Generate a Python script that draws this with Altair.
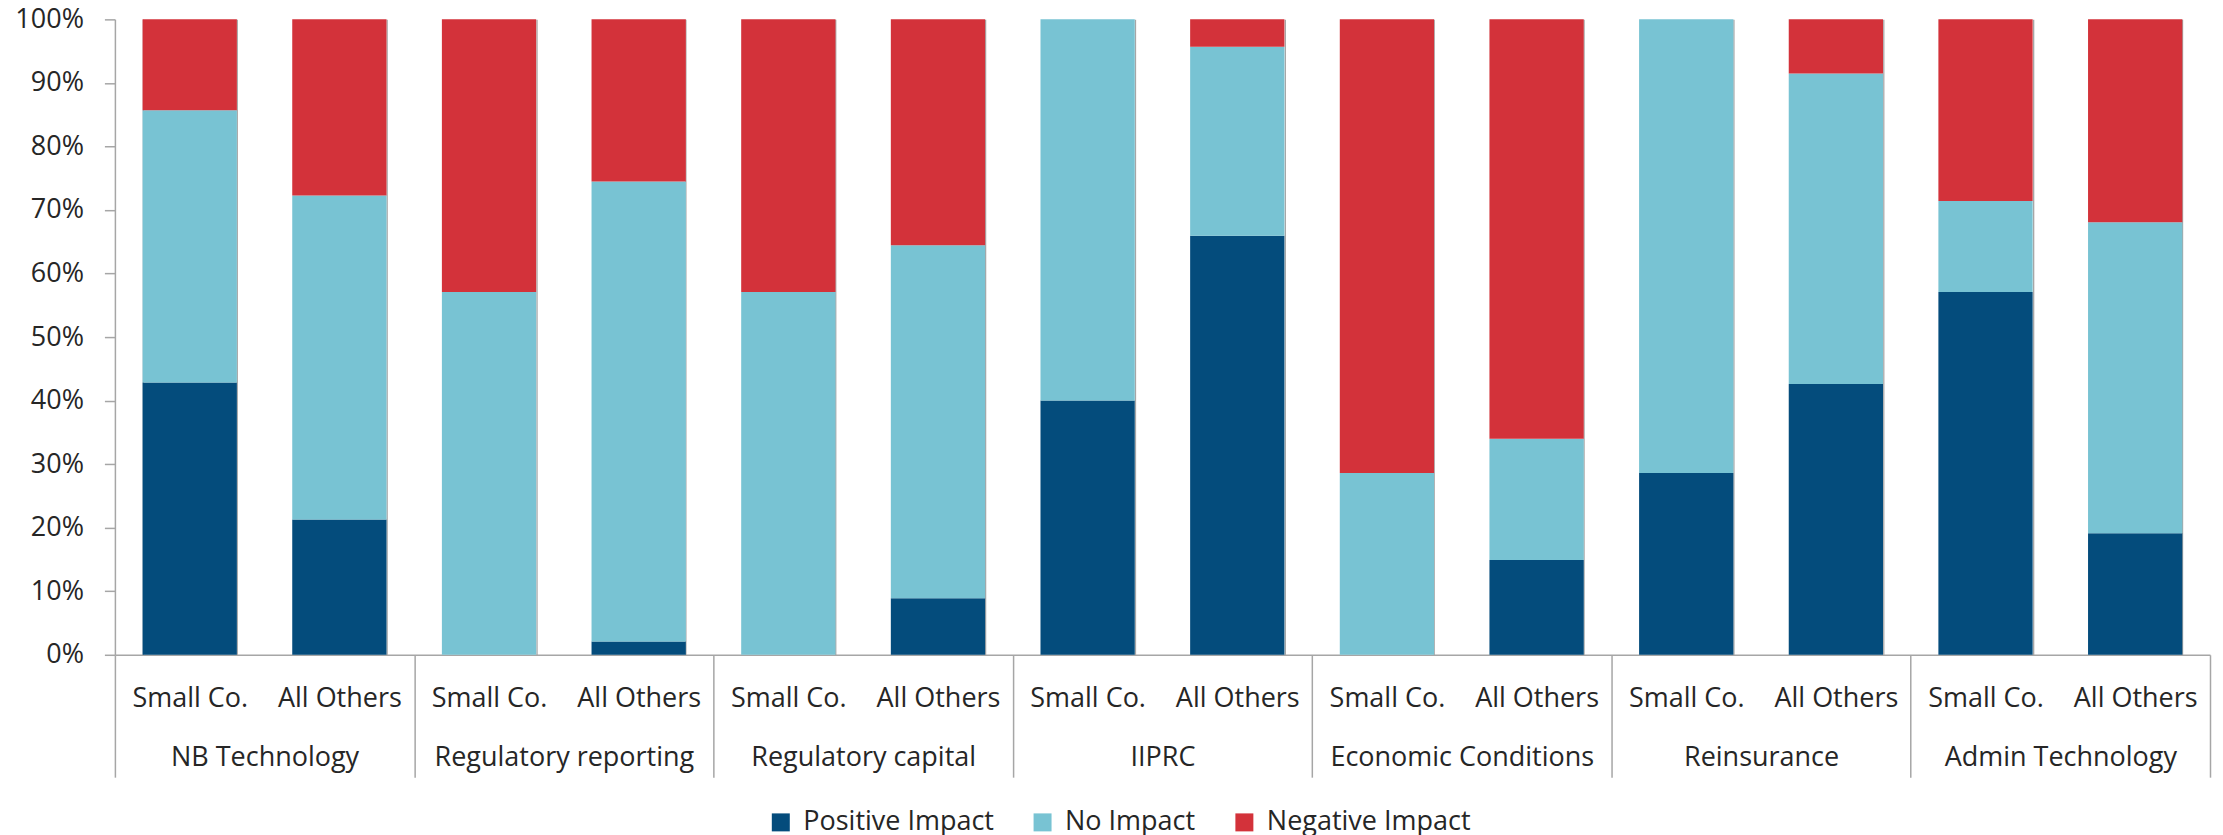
import altair as alt
import pandas as pd

groups = ["NB Technology", "Regulatory reporting", "Regulatory capital", "IIPRC",
          "Economic Conditions", "Reinsurance", "Admin Technology"]
subgroups = ["Small Co.", "All Others"]
series = ["Positive Impact", "No Impact", "Negative Impact"]
colors = ["#044C7C", "#78C3D3", "#D3323A"]

# shares in % for each bar (group order, Small Co. then All Others)
positive = [42.9, 21.3, 0.0, 2.1, 0.0, 8.9, 40.0, 66.0, 0.0, 14.9, 28.6, 42.6, 57.1, 19.1]
no_impact = [42.9, 51.0, 57.1, 72.3, 57.1, 55.6, 60.0, 29.8, 28.6, 19.1, 71.4, 48.9, 14.3, 48.9]
negative = [14.3, 27.7, 42.9, 25.5, 42.9, 35.6, 0.0, 4.3, 71.4, 66.0, 0.0, 8.5, 28.6, 31.9]

y_ticks = [0.0, 0.1, 0.2, 0.3, 0.4, 0.5, 0.6, 0.7, 0.8, 0.9, 1.0]

rows = []
keys = []
for gi, g in enumerate(groups):
    for si, s in enumerate(subgroups):
        k = f"{g}|{s}"
        keys.append(k)
        i = gi * 2 + si
        for j, (name, vals) in enumerate(zip(series, [positive, no_impact, negative])):
            rows.append({"key": k, "group": g, "sub": s, "series": name,
                         "order": j, "value": vals[i]})
df = pd.DataFrame(rows)
gdf = pd.DataFrame({"group": groups})

W, H = 2097, 636
FONT = "Open Sans"
FS = 27
TXT = "#262626"
LINE = "#A6A6A6"

bars = alt.Chart(df).mark_bar().encode(
    x=alt.X("key:N", sort=keys,
            scale=alt.Scale(paddingInner=0.37, paddingOuter=0.185),
            axis=alt.Axis(title=None, orient="bottom",
                          labelExpr="split(datum.label, '|')[1]",
                          labelAngle=0, labelFontSize=FS, labelFont=FONT,
                          labelColor=TXT, labelBaseline="alphabetic",
                          labelPadding=52, labelLimit=0, labelOverlap=False,
                          ticks=False, domain=True, domainColor=LINE,
                          domainWidth=1.5, grid=True, gridColor=LINE,
                          gridWidth=1.3, tickBand="extent")),
    y=alt.Y("value:Q", stack="normalize",
            scale=alt.Scale(domain=[0, 1], nice=False),
            axis=alt.Axis(title=None, values=y_ticks, format=".0%", grid=False,
                          labelFontSize=FS, labelFont=FONT, labelColor=TXT,
                          labelPadding=21, tickSize=10.5, tickColor=LINE,
                          tickWidth=1.5, domainColor=LINE, domainWidth=1.5)),
    color=alt.Color("series:N", sort=series,
                    scale=alt.Scale(domain=series, range=colors),
                    legend=alt.Legend(title=None, orient="none", legendX=653,
                                      legendY=790, direction="horizontal",
                                      symbolType="square", symbolSize=324,
                                      symbolStrokeWidth=0, labelFontSize=FS,
                                      labelFont=FONT, labelColor=TXT,
                                      labelLimit=0, labelOffset=9,
                                      columnPadding=35)),
    order=alt.Order("order:Q", sort="ascending"),
)

gaxis = alt.Chart(gdf).mark_point(opacity=0).encode(
    x=alt.X("group:N", sort=groups,
            scale=alt.Scale(paddingInner=0, paddingOuter=0),
            axis=alt.Axis(title=None, orient="bottom", labelAngle=0,
                          labelFontSize=FS, labelFont=FONT, labelColor=TXT,
                          labelBaseline="alphabetic", tickBand="extent",
                          tickSize=122.5, tickColor=LINE, tickWidth=1.5,
                          labelPadding=-12, domain=False, grid=False,
                          labelLimit=0, labelOverlap=False)),
)

chart = alt.layer(bars, gaxis).resolve_scale(x="independent").properties(
    width=W, height=H,
    autosize=alt.AutoSizeParams(type="none"),
    padding={"left": 107, "top": 11, "right": 5, "bottom": 182},
).configure_view(stroke="transparent")

chart.save("out.html", embed_options={"renderer": "svg", "actions": False})
